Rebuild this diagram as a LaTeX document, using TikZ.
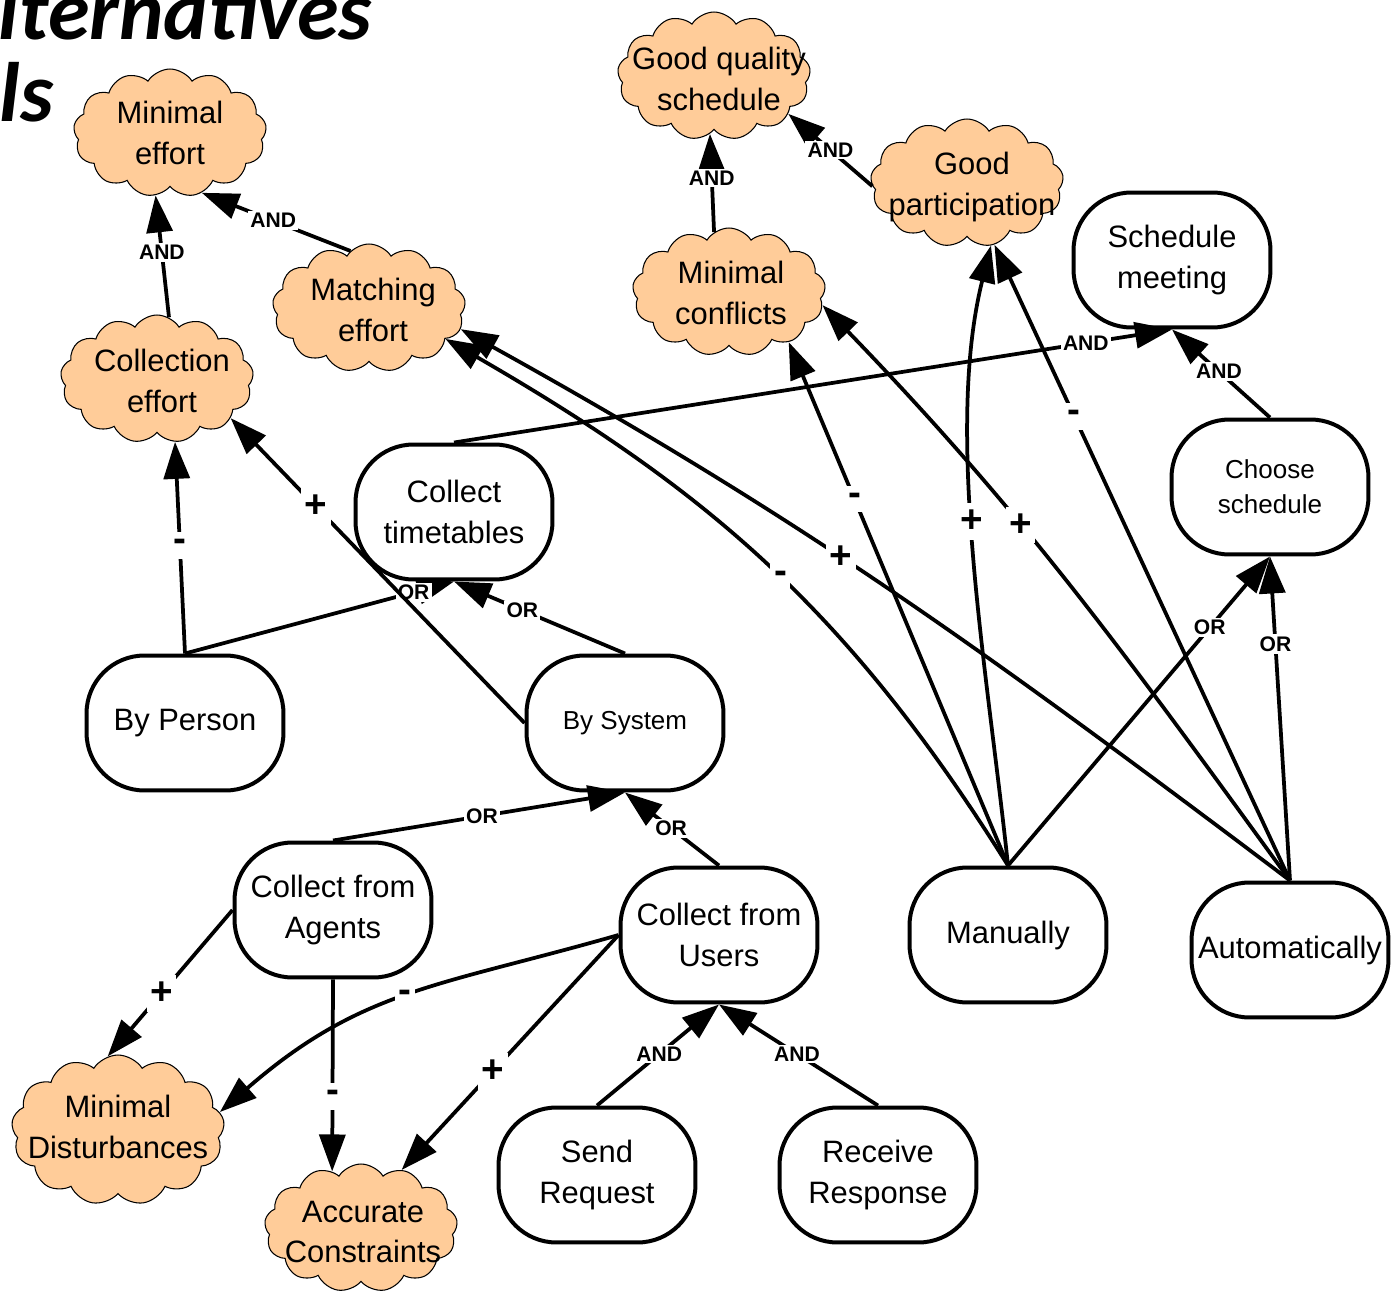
\documentclass[tikz,border=0pt]{standalone}
\usepackage{fontspec}
\setmainfont{Liberation Sans}
\newfontfamily\titlefont{Carlito}
\usetikzlibrary{shapes.symbols,arrows.meta}
\definecolor{sgfill}{HTML}{FFCC99}
\newcommand\nodefont{\fontsize{17.6}{23.3}\selectfont}
\newcommand\smallnodefont{\fontsize{14.8}{20}\selectfont}
\newcommand\linkfont{\bfseries\fontsize{12}{13}\selectfont}
\newcommand\signfont{\bfseries\fontsize{22}{24}\selectfont}
\newcommand\headfont{\titlefont\bfseries\itshape\fontsize{48}{50}\selectfont}

\begin{document}
\begin{tikzpicture}[x=0.02cm,y=0.02cm,
  task/.style={draw, line width=0.08cm, rounded corners=1.16cm,
    minimum width=3.94cm, minimum height=2.7cm, align=center,
    font=\nodefont, inner sep=0pt},
  smalltask/.style={task, font=\smallnodefont},
  softgoal/.style={cloud, cloud puffs=13, cloud puff arc=115, draw,
    line width=0.6pt, fill=sgfill, minimum width=3.86cm,
    minimum height=2.56cm, inner sep=0pt},
  sgtext/.style={align=center, font=\nodefont, inner sep=0pt},
  link/.style={line width=0.075cm, -{Triangle[length=0.74cm,width=0.52cm]}},
  dec/.style={fill=white, inner sep=1.2pt, font=\linkfont},
  contrib/.style={fill=white, inner xsep=2pt, inner ysep=4pt, font=\signfont}]

\useasboundingbox (0,0) rectangle (1394,-1291);

% slide title, running off the top left corner
\begin{scope}
  \clip (0,0) rectangle (1394,-1291);
  \node[anchor=base east, inner sep=0pt, font=\headfont]
    (title1) at (372,-40) {Alternatives};
  \node[anchor=base east, inner sep=0pt, font=\headfont]
    (title2) at (54,-122) {Goals};
\end{scope}

% softgoals
\node[softgoal] (minef) at (170,-133) {};
\node[sgtext] (minef-t) at (minef) {Minimal\\effort};
\node[softgoal] (gqs) at (714,-76) {};
\node[sgtext] (gqs-t) at (719,-79) {Good quality\\schedule};
\node[softgoal] (gp) at (967,-183) {};
\node[sgtext] (gp-t) at (972,-187) {Good\\participation};
\node[softgoal] (match) at (369,-308) {};
\node[sgtext] (match-t) at (373,-310) {Matching\\effort};
\node[softgoal] (mincf) at (729,-292) {};
\node[sgtext] (mincf-t) at (731,-293) {Minimal\\conflicts};
\node[softgoal] (colef) at (157,-379) {};
\node[sgtext] (colef-t) at (162,-381) {Collection\\effort};
\node[softgoal, minimum width=4.26cm, minimum height=3.0cm] (mindist) at (118,-1130) {};
\node[sgtext] (mindist-t) at (118,-1127) {Minimal\\Disturbances};
\node[softgoal] (accon) at (361,-1228) {};
\node[sgtext] (accon-t) at (363,-1232) {Accurate\\Constraints};

% goals and tasks
\node[task] (sm) at (1172,-260) {Schedule\\meeting};
\node[smalltask] (cs) at (1270,-487) {Choose\\schedule};
\node[task] (ct) at (454,-512) {Collect\\timetables};
\node[task] (bp) at (185,-723) {By Person};
\node[smalltask] (bs) at (625,-723) {By System};
\node[task] (ca) at (333,-910) {Collect from\\Agents};
\node[task] (cu) at (719,-935) {Collect from\\Users};
\node[task] (man) at (1008,-935) {Manually};
\node[task] (aut) at (1290,-950) {Automatically};
\node[task] (sr) at (597,-1175) {Send\\Request};
\node[task] (rr) at (878,-1175) {Receive\\Response};

% decompositions
\draw[link] (colef.79) -- node[dec,pos=0.53]{AND} (minef.257);
\draw[link] (match.108) -- node[dec,pos=0.52]{AND} (minef.298);
\draw[link] (mincf.104) -- node[dec,pos=0.55]{AND} (gqs.266);
\draw[link] (gp.182) -- node[dec,pos=0.5]{AND} (gqs.333);
\draw[link] (ct.north) -- node[dec,pos=0.88]{AND} (sm.south);
\draw[link] (cs.north) -- node[dec,pos=0.52]{AND} (sm.south);
\draw[link] (bp.north) -- node[dec,pos=0.85]{OR} (ct.south);
\draw[link] (bs.north) -- node[dec,pos=0.6]{OR} (ct.south);
\draw[link] (ca.north) -- node[dec,pos=0.51]{OR} (bs.south);
\draw[link] (cu.north) -- node[dec,pos=0.51]{OR} (bs.south);
\draw[link] (sr.north) -- node[dec,pos=0.51]{AND} (cu.south);
\draw[link] (rr.north) -- node[dec,pos=0.51]{AND} (cu.south);
\draw[link] (man.north) -- node[dec,pos=0.77]{OR} (cs.south);
\draw[link] (aut.north) -- node[dec,pos=0.73]{OR} (cs.south);

% contributions
\draw[link] (bp.north) -- node[contrib,pos=0.51]{-} (colef.286);
\draw[link] (bs.west) -- node[contrib,pos=0.71]{+} (colef.332);
\draw[link] (ca.west) -- node[contrib,pos=0.57]{+} (mindist.98);
\draw[link] (ca.south) -- node[contrib,pos=0.61]{-} (accon.117);
\draw[link] (cu.west) to[out=196,in=41,looseness=1.1] node[contrib,pos=0.5]{-} (mindist.10);
\draw[link] (cu.west) -- node[contrib,pos=0.58]{+} (accon.55);
\draw[link] (man.north) to[out=96,in=256,looseness=0.8] node[contrib,pos=0.55]{+} (gp.291);
\draw[link] (aut.north) -- node[contrib,pos=0.73]{-} (gp.294);
\draw[link] (man.north) -- node[contrib,pos=0.7]{-} (mincf.320);
\draw[link] (aut.north) to[out=126,in=314] node[contrib,pos=0.61]{+} (mincf.352);
\draw[link] (man.north) to[out=122,in=330] node[contrib,pos=0.47]{-} (match.338);
\draw[link] (aut.north) to[out=143,in=331] node[contrib,pos=0.56]{+} (match.347);
\end{tikzpicture}
\end{document}
